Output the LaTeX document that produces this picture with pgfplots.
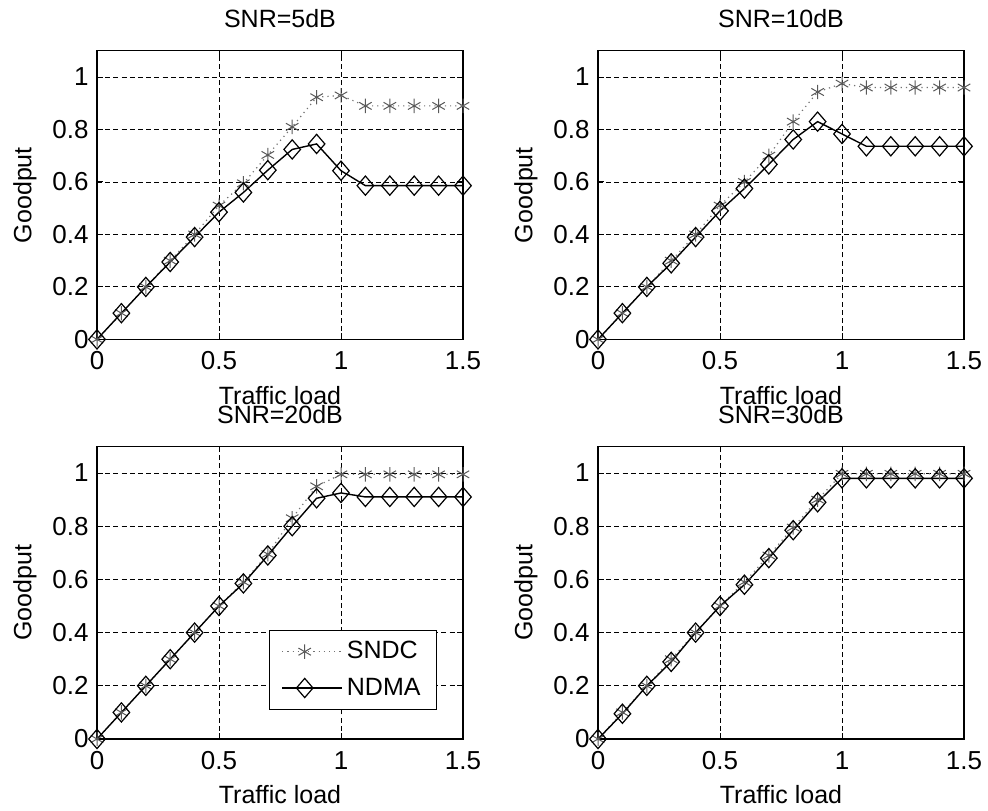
\documentclass[border=0pt]{standalone}
\usepackage{pgfplots}
\pgfplotsset{compat=1.18}
\usepackage{fontspec}
\setmainfont{Liberation Sans}
\newcommand{\fs}{\fontsize{12.5}{14}\selectfont}
\pgfplotsset{
  mystyle/.style={
    scale only axis, width=183pt,
    xmin=0,xmax=1.5,ymin=0,ymax=1.1,
    xtick={0,0.5,1,1.5}, ytick={0,0.2,0.4,0.6,0.8,1},
    xticklabels={0,0.5,1,1.5}, yticklabels={0,0.2,0.4,0.6,0.8,1},
    /pgf/number format/assume math mode=true,
    grid=major,
    major grid style={black, line width=0.45pt, dash pattern=on 2.5pt off 1.6pt},
    tick align=inside, major tick length=3pt,
    axis line style={line width=0.6pt},
    every tick/.style={black, line width=0.5pt},
    ticklabel style={font=\fontsize{13}{15}\selectfont},
    xticklabel style={anchor=base, yshift=-15pt},
    yticklabel style={anchor=east, inner sep=0pt, xshift=-4pt},
    label style={font=\fs},
    title style={font=\fs, at={(axis description cs:0.5,1)}, anchor=base, yshift=5.5pt},
    xlabel={Traffic load},
    ylabel={Goodput},
    xlabel style={at={(axis description cs:0.5,0)}, anchor=base, yshift=-32.3pt},
    ylabel style={at={(axis description cs:-0.179,0.5)}, anchor=base},
    legend cell align=left,
    legend image code/.code={\draw[mark repeat=2,mark phase=2,#1] plot coordinates {(0pt,0pt)(11.25pt,0pt)(22.5pt,0pt)}; \path (0pt,0pt) -- (30pt,0pt);},
    legend style={at={(axis cs:0.705,0.41)}, anchor=north west, font=\fs, draw=black, line width=0.5pt, inner xsep=6pt, inner ysep=3.5pt, row sep=4pt},
  },
  sndc/.style={color=black!55, dotted, line width=0.6pt, mark=asterisk, mark size=3.6pt, mark options={solid, black!65, line width=0.5pt}},
  ndma/.style={color=black, solid, line width=0.7pt, mark=diamond, mark size=4.8pt, mark options={solid, fill=none, black, xscale=1.15, line width=0.6pt}},
}
\begin{document}
\begin{tikzpicture}
\path[use as bounding box] (0,0) rectangle (494pt,405pt);
% SNR=5dB
\begin{axis}[mystyle, at={(48.5pt,235.3pt)}, anchor=south west, height=144.3pt, title={SNR=5dB}]
\addplot[sndc] coordinates {(0,0)(0.1,0.1)(0.2,0.2)(0.3,0.3)(0.4,0.4)(0.5,0.51)(0.6,0.595)(0.7,0.703)(0.8,0.81)(0.9,0.923)(1.0,0.93)(1.1,0.89)(1.2,0.89)(1.3,0.89)(1.4,0.89)(1.5,0.89)};
\addplot[ndma] coordinates {(0,0)(0.1,0.1)(0.2,0.2)(0.3,0.295)(0.4,0.39)(0.5,0.485)(0.6,0.56)(0.7,0.645)(0.8,0.724)(0.9,0.745)(1.0,0.643)(1.1,0.586)(1.2,0.586)(1.3,0.586)(1.4,0.586)(1.5,0.586)};
\end{axis}
% SNR=10dB
\begin{axis}[mystyle, at={(299pt,235.3pt)}, anchor=south west, height=144.3pt, title={SNR=10dB}]
\addplot[sndc] coordinates {(0,0)(0.1,0.1)(0.2,0.2)(0.3,0.3)(0.4,0.4)(0.5,0.51)(0.6,0.6)(0.7,0.70)(0.8,0.83)(0.9,0.943)(1.0,0.975)(1.1,0.96)(1.2,0.96)(1.3,0.96)(1.4,0.96)(1.5,0.96)};
\addplot[ndma] coordinates {(0,0)(0.1,0.1)(0.2,0.2)(0.3,0.29)(0.4,0.39)(0.5,0.49)(0.6,0.575)(0.7,0.667)(0.8,0.762)(0.9,0.83)(1.0,0.783)(1.1,0.736)(1.2,0.736)(1.3,0.736)(1.4,0.736)(1.5,0.736)};
\end{axis}
% SNR=20dB
\begin{axis}[mystyle, at={(48.5pt,35.5pt)}, anchor=south west, height=146.3pt, title={SNR=20dB}]
\addplot[sndc] coordinates {(0,0)(0.1,0.1)(0.2,0.2)(0.3,0.3)(0.4,0.4)(0.5,0.5)(0.6,0.59)(0.7,0.695)(0.8,0.83)(0.9,0.95)(1.0,0.995)(1.1,0.995)(1.2,0.995)(1.3,0.995)(1.4,0.995)(1.5,0.995)};
\addplot[ndma] coordinates {(0,0)(0.1,0.1)(0.2,0.2)(0.3,0.3)(0.4,0.4)(0.5,0.5)(0.6,0.585)(0.7,0.69)(0.8,0.80)(0.9,0.905)(1.0,0.925)(1.1,0.91)(1.2,0.91)(1.3,0.91)(1.4,0.91)(1.5,0.91)};
\legend{SNDC,NDMA}
\end{axis}
% SNR=30dB
\begin{axis}[mystyle, at={(299pt,35.5pt)}, anchor=south west, height=146.3pt, title={SNR=30dB}]
\addplot[sndc] coordinates {(0,0)(0.1,0.1)(0.2,0.2)(0.3,0.3)(0.4,0.4)(0.5,0.5)(0.6,0.59)(0.7,0.69)(0.8,0.795)(0.9,0.9)(1.0,0.997)(1.1,0.997)(1.2,0.997)(1.3,0.997)(1.4,0.997)(1.5,0.997)};
\addplot[ndma] coordinates {(0,0)(0.1,0.095)(0.2,0.2)(0.3,0.29)(0.4,0.4)(0.5,0.5)(0.6,0.58)(0.7,0.68)(0.8,0.785)(0.9,0.89)(1.0,0.98)(1.1,0.98)(1.2,0.98)(1.3,0.98)(1.4,0.98)(1.5,0.98)};
\end{axis}
\end{tikzpicture}
\end{document}
